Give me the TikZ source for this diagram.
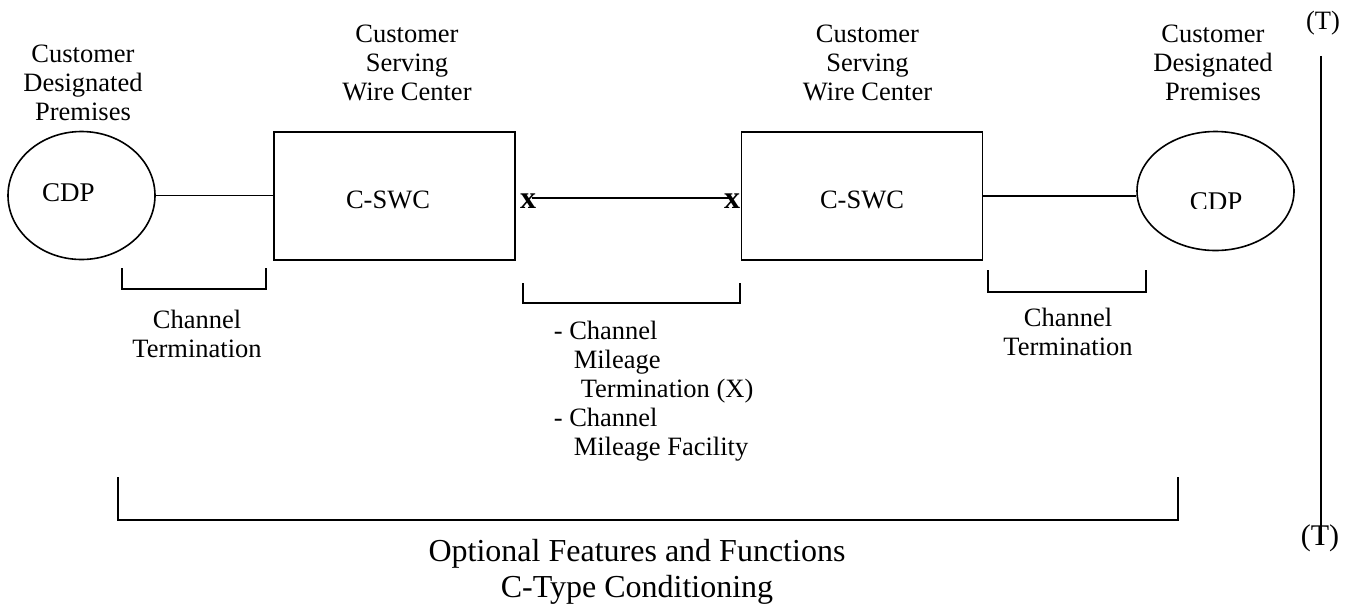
\documentclass[tikz,border=0pt]{standalone}
\usepackage{fontspec}
\setmainfont{Liberation Serif}
\usetikzlibrary{positioning,calc,shapes.geometric}

\begin{document}
\begin{tikzpicture}[x=1pt,y=-1pt,line width=1.6pt,
	txt/.style={inner sep=0pt,font=\fontsize{26.5}{29}\selectfont,align=center},
	site/.style={draw,ellipse,inner sep=0pt},
	office/.style={draw,rectangle,inner sep=0pt,minimum width=241pt,minimum height=128pt},
	xmark/.style={inner sep=0pt,font=\fontsize{32}{34}\selectfont\bfseries}]
	\useasboundingbox (0,0) rectangle (1356,606);
	% premises and wire centers
	\node[site,minimum width=147pt,minimum height=128pt] (cdpA) at (81.5,195.5) {};
	\node[txt,font=\fontsize{27}{30}\selectfont] (cdpAtxt) at (68.5,193) {CDP};
	\node[office] (swcA) at (394.5,196) {};
	\node[txt] (swcAtxt) at (388,200) {C-SWC};
	\node[office] (swcB) at (862,196) {};
	\node[txt] (swcBtxt) at (862,200) {C-SWC};
	\node[site,minimum width=157pt,minimum height=119pt] (cdpB) at (1215.5,191) {};
	\begin{scope}
		\clip (1140,150) rectangle (1290,208);
		\node[txt,font=\fontsize{27}{30}\selectfont] (cdpBtxt) at (1216,202) {CDP};
	\end{scope}
	\node[xmark] (xA) at (528,201) {x};
	\node[xmark] (xB) at (732,201) {x};
	%
	\draw (cdpA.east) -- (cdpA.east -| swcA.west);
	\draw ($(xA.center)+(4,-3)$) -- ($(xB.center)+(-2,-3)$);
	\draw (swcB.east) -- (swcB.east -| cdpB.west);
	%
	\node[txt,anchor=north] (premA) at (83,44) {Customer\\Designated\\Premises};
	\node[txt,anchor=north] (servA) at (407,24) {Customer\\Serving\\Wire Center};
	\node[txt,anchor=north] (servB) at (867.5,24) {Customer\\Serving\\Wire Center};
	\node[txt,anchor=north] (premB) at (1213,24) {Customer\\Designated\\Premises};
	% brackets
	\draw (122,268) |- (266,289) -- (266,268);
	\draw (523,283) |- (740,303) -- (740,283);
	\draw (988,270) |- (1146,292) -- (1146,270);
	\draw (118,477) |- (1178,520) -- (1178,477);
	\node[txt,anchor=north] (termA) at (197,309) {Channel\\Termination};
	\node[txt,anchor=north] (termB) at (1068,307) {Channel\\Termination};
	\node[txt,align=left,anchor=north west] (mileage) at (553,320)
		{- Channel\\\hspace*{20pt}Mileage\\\hspace*{27pt}Termination (X)\\- Channel\\\hspace*{20pt}Mileage Facility};
	\node[txt,anchor=north,font=\fontsize{32}{36}\selectfont] (options) at (637,538)
		{Optional Features and Functions\\C-Type Conditioning};
	% change marks
	\node[txt] (tTop) at (1323,23) {(T)};
	\node[txt,font=\fontsize{30}{33}\selectfont] (tBot) at (1320,538) {(T)};
	\draw ($(tTop.south)+(-2,20)$) -- ($(tBot.center)+(1,7)$);
\end{tikzpicture}
\end{document}
